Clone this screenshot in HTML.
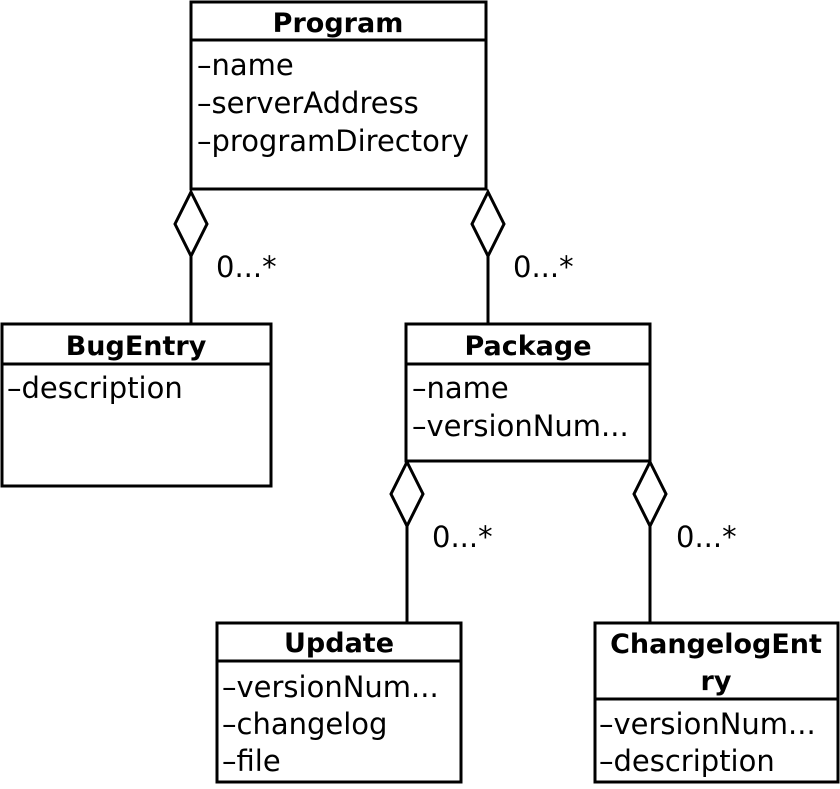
<!DOCTYPE html>
<html><head><style>
body{margin:0;background:#fff;}
svg text{font-family:"DejaVu Sans","Liberation Sans",sans-serif;fill:#000;}
.t{font-weight:bold;font-size:27px;text-anchor:middle;}
.a{font-size:29px;}
</style></head><body>
<svg width="840" height="784" viewBox="0 0 840 784">
<g fill="#fff" stroke="#000" stroke-width="3">
<rect x="191" y="2" width="295" height="187"/>
<line x1="191" y1="40" x2="486" y2="40"/>
<rect x="2" y="324" width="269" height="162"/>
<line x1="2" y1="364" x2="271" y2="364"/>
<rect x="406" y="324" width="244" height="137"/>
<line x1="406" y1="364" x2="650" y2="364"/>
<rect x="217" y="623" width="244" height="159"/>
<line x1="217" y1="661" x2="461" y2="661"/>
<rect x="595" y="623" width="243" height="159"/>
<line x1="595" y1="699" x2="838" y2="699"/>
<line x1="191" y1="256" x2="191" y2="324"/>
<line x1="488" y1="256" x2="488" y2="324"/>
<line x1="407" y1="526" x2="407" y2="623"/>
<line x1="650" y1="526" x2="650" y2="623"/>
<polygon points="191,192 207,224 191,256 175,224"/>
<polygon points="488,192 504,224 488,256 472,224"/>
<polygon points="407,462 423,494 407,526 391,494"/>
<polygon points="650,462 666,494 650,526 634,494"/>
</g>
<text class="t" x="338" y="32">Program</text>
<text class="a" x="197" y="75">–name</text>
<text class="a" x="197" y="113">–serverAddress</text>
<text class="a" x="197" y="151">–programDirectory</text>
<text class="t" x="136" y="355">BugEntry</text>
<text class="a" x="7" y="398">–description</text>
<text class="t" x="528" y="355">Package</text>
<text class="a" x="412" y="398">–name</text>
<text class="a" x="412" y="436">–versionNum...</text>
<text class="t" x="339" y="652">Update</text>
<text class="a" x="222" y="697">–versionNum...</text>
<text class="a" x="222" y="734">–changelog</text>
<text class="a" x="222" y="771">–file</text>
<text class="t" x="716" y="653">ChangelogEnt</text>
<text class="t" x="716" y="690">ry</text>
<text class="a" x="599" y="734">–versionNum...</text>
<text class="a" x="599" y="771">–description</text>
<text class="a" x="216" y="277">0...*</text>
<text class="a" x="513" y="277">0...*</text>
<text class="a" x="432" y="547">0...*</text>
<text class="a" x="676" y="547">0...*</text>
</svg>
</body></html>
